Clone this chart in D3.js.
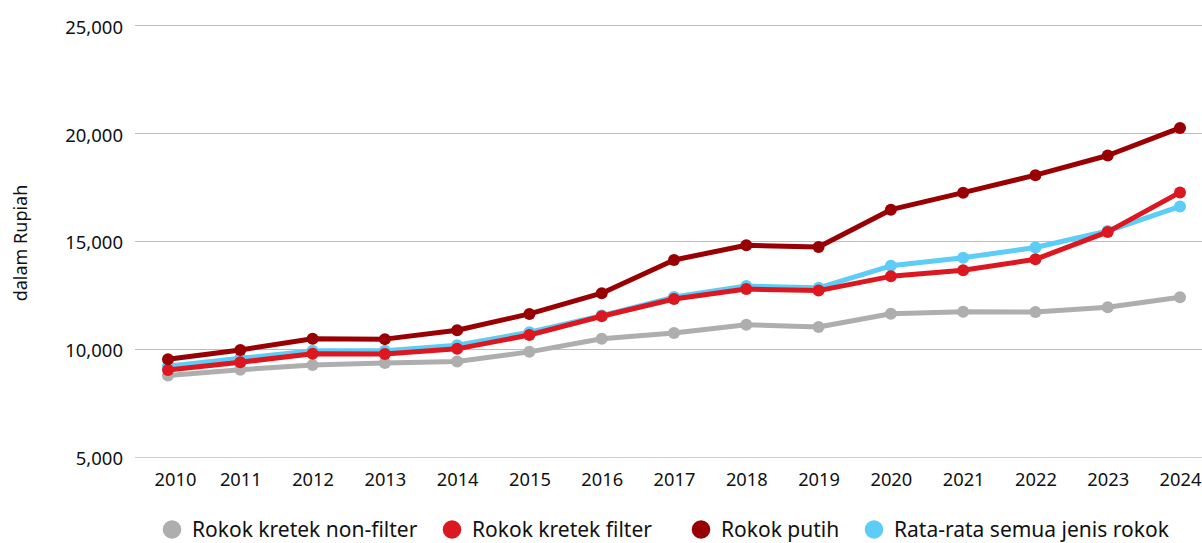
<!DOCTYPE html>
<html>
<head>
<meta charset="utf-8">
<script src="https://d3js.org/d3.v7.min.js"></script>
<style>
  body { margin: 0; background: #fff; }
  text { font-family: "Noto Sans", "Open Sans", sans-serif; fill: #111; }
</style>
</head>
<body>
<svg width="1202" height="543"></svg>
<script>
// years on the x axis
var years = [2010, 2011, 2012, 2013, 2014, 2015, 2016, 2017, 2018, 2019, 2020, 2021, 2022, 2023, 2024];

// harga rata-rata per bungkus (Rupiah)
var kretekNonFilter = [8750, 9020, 9240, 9330, 9400, 9850, 10460, 10720, 11110, 11000, 11620, 11710, 11700, 11920, 12380];
var kretekFilter    = [9010, 9370, 9760, 9750, 9990, 10630, 11500, 12300, 12760, 12690, 13350, 13630, 14140, 15410, 17240];
var rokokPutih      = [9510, 9940, 10460, 10440, 10850, 11610, 12570, 14110, 14790, 14710, 16440, 17230, 18040, 18950, 20230];
var rataRata        = [9180, 9550, 9900, 9900, 10160, 10760, 11530, 12390, 12900, 12820, 13840, 14210, 14690, 15450, 16590];

var yTicks = [5000, 10000, 15000, 20000, 25000];

var seriesNames = ["Rokok kretek non-filter", "Rokok kretek filter", "Rokok putih", "Rata-rata semua jenis rokok"];
var seriesColors = ["#aeaeae", "#dc1720", "#990003", "#5bcdf6"];
var seriesValues = [kretekNonFilter, kretekFilter, rokokPutih, rataRata];
// drawing order: grey, cyan, red, dark red
var drawOrder = [0, 3, 1, 2];

var svg = d3.select("svg");

var x = d3.scaleLinear().domain([2010, 2024]).range([168, 1180]);
var y = d3.scaleLinear().domain([5000, 25000]).range([456.5, 25]);

// grid lines
svg.append("g")
  .selectAll("line")
  .data(yTicks)
  .enter()
  .append("line")
  .attr("x1", 135)
  .attr("x2", 1202)
  .attr("y1", function(d){ return Math.round(y(d)) + 0.5; })
  .attr("y2", function(d){ return Math.round(y(d)) + 0.5; })
  .attr("stroke", function(d){ return d == 5000 ? "#cfcfcf" : "#bdbdbd"; })
  .attr("stroke-width", 1);

// y axis labels
var yAxis = d3.axisLeft(y).tickValues(yTicks).tickSize(0).tickPadding(0)
  .tickFormat(d3.format(","));
var gy = svg.append("g").attr("transform", "translate(123,0)").call(yAxis);
gy.select(".domain").remove();
gy.selectAll("text")
  .attr("dy", "0.44em")
  .style("font-size", "18.5px")
  .style("font-family", "'Noto Sans', sans-serif")
  .attr("fill", "#111");

// x axis labels
var xAxis = d3.axisBottom(x).tickValues(years).tickSize(0).tickPadding(0)
  .tickFormat(d3.format("d"));
var gx = svg.append("g").attr("transform", "translate(0,473)").call(xAxis);
gx.select(".domain").remove();
gx.selectAll("text")
  .style("font-size", "18.3px")
  .style("font-family", "'Noto Sans', sans-serif")
  .attr("fill", "#111");
// first label sits a little to the right in the original
gx.selectAll("text").filter(function(d){ return d == 2010; }).attr("dx", 7);

// y axis title
svg.append("text")
  .attr("transform", "translate(26.5,243) rotate(-90)")
  .attr("text-anchor", "middle")
  .style("font-size", "18px")
  .text("dalam Rupiah");

var line = d3.line()
  .x(function(d, i){ return x(years[i]); })
  .y(function(d){ return y(d); });

drawOrder.forEach(function(s) {
  var g = svg.append("g");
  g.append("path")
    .datum(seriesValues[s])
    .attr("d", line)
    .attr("fill", "none")
    .attr("stroke", seriesColors[s])
    .attr("stroke-width", 5)
    .attr("stroke-linejoin", "round");
  g.selectAll("circle")
    .data(seriesValues[s])
    .enter()
    .append("circle")
    .attr("cx", function(d, i){ return x(years[i]); })
    .attr("cy", function(d){ return y(d); })
    .attr("r", 6)
    .attr("fill", seriesColors[s]);
});

// legend
var legendX = [172, 452, 701, 874];
var legend = svg.append("g");
seriesNames.forEach(function(name, i) {
  legend.append("circle")
    .attr("cx", legendX[i])
    .attr("cy", 529.5)
    .attr("r", 9.3)
    .attr("fill", seriesColors[i]);
  legend.append("text")
    .attr("x", legendX[i] + 20)
    .attr("y", 537)
    .style("font-size", "21px")
    .text(name);
});
</script>
</body>
</html>
